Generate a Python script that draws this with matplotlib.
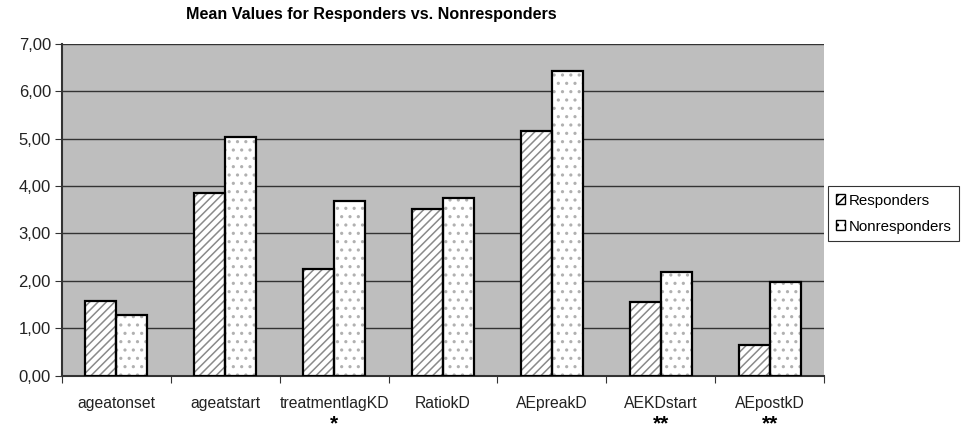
import matplotlib
matplotlib.use("Agg")
import matplotlib.pyplot as plt
import numpy as np
from matplotlib.patches import Patch

categories = ["ageatonset", "ageatstart", "treatmentlagKD", "RatiokD", "AEpreakD", "AEKDstart", "AEpostkD"]
responders = [1.57, 3.86, 2.25, 3.51, 5.17, 1.55, 0.64]
nonresponders = [1.28, 5.03, 3.69, 3.74, 6.43, 2.18, 1.97]
significance = ["", "", "*", "", "", "**", "**"]
yticks = [0, 1, 2, 3, 4, 5, 6, 7]
ytick_labels = ["0,00", "1,00", "2,00", "3,00", "4,00", "5,00", "6,00", "7,00"]

plt.rcParams['font.family'] = ['Liberation Sans', 'DejaVu Sans']
plt.rcParams['hatch.linewidth'] = 1.1

fig = plt.figure(figsize=(9.63, 4.32), dpi=100)
ax = fig.add_axes([62/963, 1-375.5/432, (824-62)/963, (375.5-44)/432])
ax.set_facecolor("#bebebe")

x = np.arange(len(categories)) + 0.5
w = 0.285
# hatch layer (hatch colour follows edge colour), then black outline layer
ax.bar(x - w/2, responders, w, color="white", edgecolor="#8a8a8a", linewidth=0,
       hatch="////", zorder=3)
ax.bar(x + w/2, nonresponders, w, color="white", edgecolor="#b0b0b0", linewidth=0,
       hatch="..", zorder=3)
ax.bar(x - w/2, responders, w, fill=False, edgecolor="black", linewidth=1.6, zorder=4)
ax.bar(x + w/2, nonresponders, w, fill=False, edgecolor="black", linewidth=1.6, zorder=4)

ax.set_xlim(0, len(categories))
ax.set_ylim(0, 7)
ax.set_yticks(yticks)
ax.set_yticklabels(ytick_labels, fontsize=12, color="#222222")
ax.yaxis.grid(True, color="#333333", linewidth=1.0, zorder=1)
ax.set_axisbelow(True)

ax.set_xticks(np.arange(len(categories) + 1))
ax.set_xticklabels([])
ax.set_xticks(x, minor=True)
ax.set_xticklabels(categories, minor=True, fontsize=11.3, color="#222222")
ax.tick_params(axis="x", which="minor", length=0, pad=15)
ax.tick_params(axis="x", which="major", length=5, direction="out", color="#333333")
ax.tick_params(axis="y", length=5, direction="out", color="#333333", pad=3)

for s in ["top", "right"]:
    ax.spines[s].set_visible(False)
ax.spines["left"].set_color("#333333")
ax.spines["bottom"].set_color("#333333")
ax.spines["left"].set_linewidth(1.5)
ax.spines["bottom"].set_linewidth(1.5)

for xi, s in zip(x, significance):
    if s:
        ax.text(xi, -1.03, s, ha="center", va="center", fontsize=15,
                fontweight="bold", transform=ax.transData, clip_on=False)

fig.text(371/963, 1-15/432, "Mean Values for Responders vs. Nonresponders",
         ha="center", va="center", fontsize=11.6, fontweight="bold")

handles = [Patch(facecolor="white", edgecolor="black", hatch="////", label="Responders"),
           Patch(facecolor="white", edgecolor="black", hatch="..", label="Nonresponders")]
leg = fig.legend(handles=handles, loc="upper left", bbox_to_anchor=(828/963, 1-186/432),
                 fontsize=10.8, frameon=True, fancybox=False, edgecolor="black",
                 handlelength=0.6, handleheight=0.6, handletextpad=0.25,
                 borderpad=0.5, labelspacing=0.8, borderaxespad=0)
leg.get_frame().set_linewidth(0.8)

fig.savefig("out.png", dpi=100)
